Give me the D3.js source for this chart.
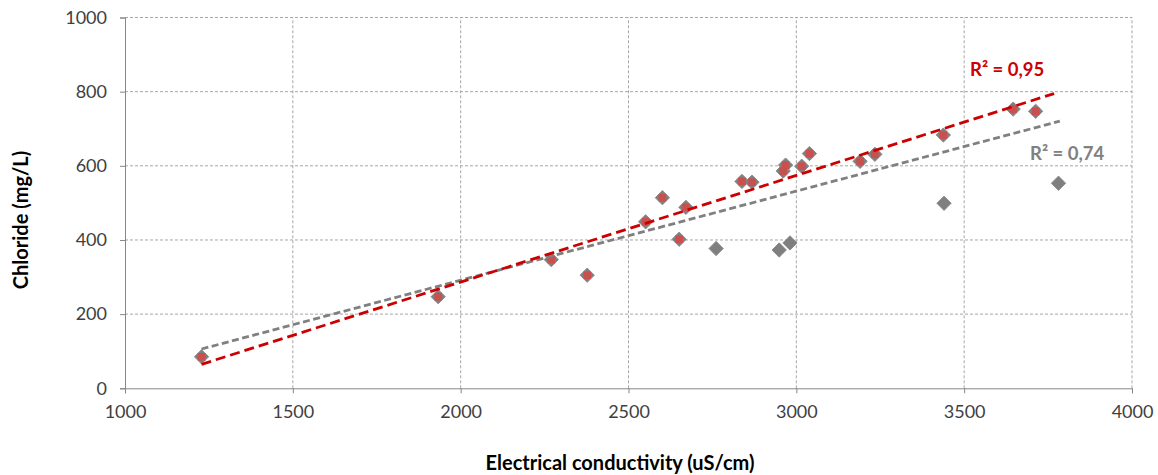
<!DOCTYPE html>
<html>
<head>
<meta charset="utf-8">
<script src="https://cdn.jsdelivr.net/npm/d3@7"></script>
<style>
  html, body { margin: 0; padding: 0; background: #ffffff; }
  svg { display: block; font-family: Lato, "Open Sans", sans-serif; }
</style>
</head>
<body>
<svg id="chart" width="1158" height="475"></svg>
<script>
// ---- data ----
const conductivity = [1228, 1933, 2270, 2377, 2551, 2601, 2651, 2671, 2761, 2838, 2868, 2949, 2961, 2968, 2981, 3016, 3039, 3190, 3234, 3438, 3440, 3646, 3713, 3781];
const chloride     = [  85,  247,  347,  305,  449,  514,  402,  488,  377,  558,  556,  373,  586,  602,  392,  599,  633,  612,  631,  683,  499,  753,  747,  553];
const redConductivity = [1228, 1933, 2270, 2377, 2551, 2601, 2651, 2671, 2838, 2868, 2961, 2968, 3016, 3039, 3190, 3234, 3438, 3646, 3713];
const redChloride     = [  85,  247,  347,  305,  449,  514,  402,  488,  558,  556,  586,  602,  599,  633,  612,  631,  683,  753,  747];

const trendNames      = ["all", "subset"];
const trendSlopes     = [0.2403, 0.2875];
const trendIntercepts = [-189.1, -288.4];
const trendXStart     = [1228, 1228];
const trendXEnd       = [3785, 3768];
const trendLabels     = ["R² = 0,74", "R² = 0,95"];

const xTicks = [1000, 1500, 2000, 2500, 3000, 3500, 4000];
const yTicks = [0, 200, 400, 600, 800, 1000];
const xTitle = "Electrical conductivity (uS/cm)";
const yTitle = "Chloride (mg/L)";

// ---- layout ----
const svg = d3.select("#chart");
const x = d3.scaleLinear().domain([1000, 4000]).range([125, 1132]);
const y = d3.scaleLinear().domain([0, 1000]).range([388.3, 17.5]);

// gridlines
const grid = svg.append("g");
grid.selectAll("line.h").data(yTicks.filter(d => d > 0)).join("line")
  .attr("x1", x(1000)).attr("x2", x(4000))
  .attr("y1", d => y(d)).attr("y2", d => y(d))
  .attr("stroke", "#a6a6a6").attr("stroke-width", 1).attr("stroke-dasharray", "3,2");
grid.selectAll("line.v").data(xTicks.filter(d => d > 1000)).join("line")
  .attr("x1", d => x(d)).attr("x2", d => x(d))
  .attr("y1", y(0)).attr("y2", y(1000))
  .attr("stroke", "#a6a6a6").attr("stroke-width", 1).attr("stroke-dasharray", "3,2");

// axes
const xAxis = svg.append("g").attr("transform", `translate(0,${y(0)})`)
  .call(d3.axisBottom(x).tickValues(xTicks).tickSize(5).tickPadding(9).tickFormat(d3.format("d")));
const yAxis = svg.append("g").attr("transform", `translate(${x(1000)},0)`)
  .call(d3.axisLeft(y).tickValues(yTicks).tickSize(5).tickPadding(13).tickFormat(d3.format("d")));
[xAxis, yAxis].forEach(a => {
  a.select(".domain").attr("stroke", "#868686").attr("stroke-width", 1);
  a.selectAll(".tick line").attr("stroke", "#868686");
  a.selectAll(".tick text").attr("fill", "#404040").style("font-size", "18px")
    .style("font-family", "Lato, 'Open Sans', sans-serif");
});
xAxis.selectAll(".tick text").attr("dy", "0.85em");

// gray diamonds (all points)
const diamond = d3.symbol().type(d3.symbolDiamond2).size(130);
svg.append("g").selectAll("path").data(conductivity.map((c, i) => [c, chloride[i]])).join("path")
  .attr("d", diamond)
  .attr("transform", d => `translate(${x(d[0])},${y(d[1])})`)
  .attr("fill", "#7f7f7f").attr("stroke", "#8c8c8c").attr("stroke-width", 1);

// red squares (subset)
svg.append("g").selectAll("rect").data(redConductivity.map((c, i) => [c, redChloride[i]])).join("rect")
  .attr("x", d => x(d[0]) - 3.75).attr("y", d => y(d[1]) - 3.75)
  .attr("width", 7.5).attr("height", 7.5)
  .attr("fill", "#c8504e");

// trend lines
const trendColors = ["#808080", "#cc0000"];
const trendDash = ["7,3.5", "10,5"];
svg.append("g").selectAll("line").data(trendNames).join("line")
  .attr("x1", (d, i) => x(trendXStart[i]))
  .attr("y1", (d, i) => y(trendSlopes[i] * trendXStart[i] + trendIntercepts[i]))
  .attr("x2", (d, i) => x(trendXEnd[i]))
  .attr("y2", (d, i) => y(trendSlopes[i] * trendXEnd[i] + trendIntercepts[i]))
  .attr("stroke", (d, i) => trendColors[i])
  .attr("stroke-width", 2.8)
  .attr("stroke-dasharray", (d, i) => trendDash[i]);

// R² labels
const labelPos = [[1030, 160], [970, 76]];
svg.append("g").selectAll("text").data(trendLabels).join("text")
  .attr("x", (d, i) => labelPos[i][0]).attr("y", (d, i) => labelPos[i][1])
  .attr("fill", (d, i) => trendColors[i])
  .style("font-size", "18.5px").style("font-weight", "bold")
  .text(d => d);

// axis titles
svg.append("text").attr("x", 620).attr("y", 470).attr("text-anchor", "middle")
  .style("font-size", "20px").style("font-weight", "bold").attr("fill", "#000")
  .text(xTitle);
svg.append("text").attr("transform", "translate(28,220) rotate(-90)").attr("text-anchor", "middle")
  .style("font-size", "20px").style("font-weight", "bold").attr("fill", "#000")
  .text(yTitle);
</script>
</body>
</html>
